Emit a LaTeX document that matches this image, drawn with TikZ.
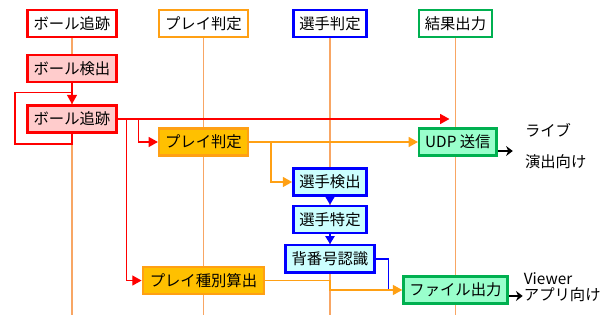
\documentclass[tikz,border=0pt]{standalone}
\usepackage{fontspec}
\setmainfont{Noto Sans CJK JP}
\usepackage{tikz}
\usetikzlibrary{arrows.meta,positioning}
\definecolor{lifeorange}{RGB}{248,166,100}
\definecolor{ballfill}{RGB}{255,204,204}
\definecolor{playorange}{RGB}{255,160,20}
\definecolor{playfill}{RGB}{255,192,0}
\definecolor{playerfill}{RGB}{204,255,255}
\definecolor{resultgreen}{RGB}{0,176,80}
\definecolor{resultfill}{RGB}{153,255,204}
\tikzstyle{head} = [rectangle, draw, line width=1.8pt, fill=white,
    minimum height=20.5pt, inner xsep=4.5pt, font=\fontsize{11.5}{13}\selectfont]
\tikzstyle{ballbox} = [head, draw=red, fill=ballfill]
\tikzstyle{playbox} = [head, draw=playorange, fill=playfill]
\tikzstyle{playerbox} = [head, draw=blue, fill=playerfill]
\tikzstyle{resultbox} = [head, draw=resultgreen, fill=resultfill]
\tikzstyle{lifeline} = [draw=lifeorange, line width=1.2pt]
\tikzstyle{redarrow} = [draw=red, line width=1.1pt, -{Triangle[length=7pt,width=7.5pt]}]
\tikzstyle{orangearrow} = [draw=playorange, line width=1.1pt, -{Triangle[length=7pt,width=7.5pt]}]
\tikzstyle{bluearrow} = [draw=blue, line width=1.1pt, -{Triangle[length=6pt,width=7pt]}]
\tikzstyle{outarrow} = [draw=black, line width=1.8pt, -{Stealth[length=5pt,width=7.5pt]}]
\tikzstyle{note} = [inner sep=0pt, align=left, font=\fontsize{11.5}{12}\selectfont]

\begin{document}
\begin{tikzpicture}[node distance = 2cm, auto]
    \useasboundingbox (-54pt,17.6pt) rectangle (405pt,-222.4pt);
    % Place heads
    \node [head, draw=red] (ballhead) {ボール追跡};
    \node [head, draw=playorange, right of=ballhead, node distance=98.6pt] (playhead) {プレイ判定};
    \node [head, draw=blue, right of=playhead, node distance=94.9pt] (playerhead) {選手判定};
    \node [head, draw=resultgreen, right of=playerhead, node distance=94.1pt] (resulthead) {結果出力};
    % Lifelines
    \foreach \h in {ballhead, playhead, playerhead, resulthead}
        \path [lifeline] (\h.south) -- (\h.south |- 0,-218.6pt);
    % Place steps
    \node [ballbox, below of=ballhead, node distance=33.75pt] (balldet) {ボール検出};
    \node [ballbox, below of=balldet, node distance=37.9pt] (balltrack) {ボール追跡};
    \node [playbox, below of=playhead, node distance=88.9pt] (playjudge) {プレイ判定};
    \node [resultbox, below of=resulthead, node distance=88.9pt, xshift=1.8pt] (udp) {UDP 送信};
    \node [playerbox, below of=playerhead, node distance=118.9pt] (detect) {選手検出};
    \node [playerbox, below of=detect, node distance=28.1pt] (identify) {選手特定};
    \node [playerbox, below of=identify, node distance=29.6pt] (jersey) {背番号認識};
    \node [playbox, below of=playjudge, node distance=103.9pt, minimum width=91pt] (playtype) {プレイ種別算出};
    \node [resultbox, below of=udp, node distance=111pt, xshift=-1.8pt] (fileout) {ファイル出力};
    \node [note, right=20.25pt of udp, yshift=-3pt] (livetxt) {ライブ\\[11pt]演出向け};
    \node [note, right=11.25pt of fileout, yshift=2.25pt] (viewtxt) {Viewer\\アプリ向け};
    \coordinate (loopin) at ([yshift=-6.75pt]balldet.south);
    \coordinate (liveend) at ([xshift=11.25pt,yshift=-6.75pt]udp.east);
    \coordinate (viewend) at ([xshift=10.5pt,yshift=-4.5pt]fileout.east);
    % Draw edges
    \path [redarrow] (balldet) -- (balltrack);
    \path [redarrow, -] (balltrack.south) -- ++(0,-7.5pt) -- ++(-42.75pt,0) |- (loopin);
    \path [redarrow] (balltrack.east) -- ([xshift=-4.5pt]balltrack.east -| resulthead);
    \path [redarrow] ([xshift=15.75pt]balltrack.east) |- (playjudge.west);
    \path [redarrow] ([xshift=6.75pt]balltrack.east) |- (playtype.west);
    \path [orangearrow] (playjudge.east) -- (udp.west);
    \path [orangearrow] ([xshift=16.5pt]playjudge.east) |- (detect.west);
    \path [bluearrow] (detect) -- (identify);
    \path [bluearrow] (identify) -- (jersey);
    \path [bluearrow, -] (jersey.east) -| ([xshift=-10.5pt]fileout.west);
    \path [orangearrow] (playtype.east) -- (playtype.east -| jersey) |- (fileout.west);
    \path [outarrow] ([yshift=-6.75pt]udp.east) -- (liveend);
    \path [outarrow] ([yshift=-4.5pt]fileout.east) -- (viewend);
\end{tikzpicture}
\end{document}
